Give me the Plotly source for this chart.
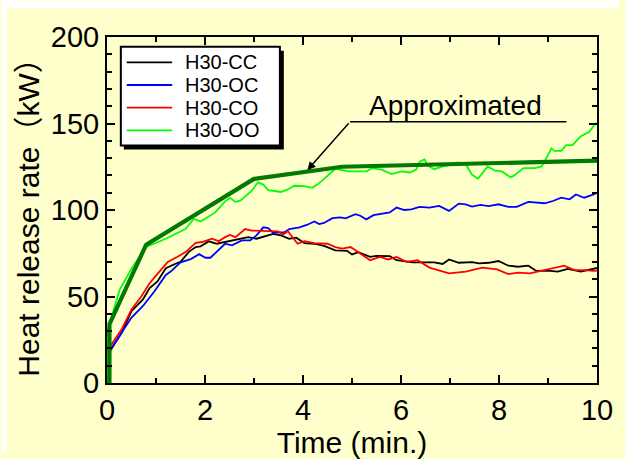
import plotly.graph_objects as go

# Heat release rate measurements, time in minutes, HRR in kW
t_cc = [0, 0.03, 0.3, 0.5, 0.73, 0.87, 1.03, 1.2, 1.41, 1.5, 1.67, 1.81, 1.91, 2.08, 2.24, 2.48,
        2.68, 2.88, 3.05, 3.22, 3.39, 3.55, 3.72, 3.86, 4.03, 4.23, 4.43, 4.66, 4.9, 5.0, 5.13,
        5.37, 5.5, 5.77, 5.91, 6.24, 6.68, 6.85, 6.98, 7.18, 7.45, 7.59, 7.79, 7.99, 8.19, 8.39,
        8.6, 8.76, 9.0, 9.2, 9.4, 9.67, 9.94, 10.0]
hrr_cc = [0, 17, 29, 41.6, 48.2, 54.9, 58.7, 66.3, 69.1, 70, 75.8, 78.6, 79, 81.9, 80.5, 81.9,
          83, 84.3, 83.4, 84.7, 86.2, 85.3, 83.4, 84, 80.9, 80.5, 79.2, 76.7, 76.4, 74.3, 75.6,
          72.9, 73.5, 73.3, 71, 69.7, 69.7, 68.8, 71.4, 69.5, 69.9, 69.1, 69.5, 70.5, 67.8, 67.2,
          67.8, 64.8, 65, 64.4, 65.9, 64.4, 66.3, 66.5]

t_oc = [0, 0.03, 0.26, 0.5, 0.73, 0.97, 1.2, 1.3, 1.5, 1.71, 1.88, 2.01, 2.11, 2.31, 2.41, 2.55,
        2.75, 2.92, 3.05, 3.19, 3.29, 3.39, 3.62, 3.72, 3.93, 4.09, 4.23, 4.33, 4.43, 4.6, 4.76,
        4.87, 5.07, 5.17, 5.29, 5.44, 5.77, 5.91, 6.07, 6.21, 6.38, 6.58, 6.78, 6.98, 7.18, 7.32,
        7.45, 7.62, 7.79, 7.99, 8.19, 8.36, 8.6, 8.93, 9.1, 9.27, 9.44, 9.57, 9.74, 9.97]
hrr_oc = [0, 17.8, 27.4, 37.8, 44.4, 53, 62.5, 64.4, 69.7, 71.6, 74.5, 72.4, 72.4, 77.7, 80.5, 79.6,
          82.4, 82.4, 85.3, 90, 89.5, 86.8, 87.2, 89, 90, 91.5, 93.4, 91.9, 92.5, 95.3, 95.7,
          95.2, 97.6, 96.7, 94.6, 97, 98.6, 101.4, 100, 100.3, 101.8, 101.4, 102.4, 99.5, 103.7, 103.3,
          102, 103, 102.2, 103.3, 101.8, 101.8, 104.7, 103.9, 105.2, 107.1, 106.2, 109, 107.1, 109.4]

t_co = [0, 0.03, 0.3, 0.5, 0.7, 0.87, 1.07, 1.24, 1.44, 1.61, 1.81, 1.94, 2.14, 2.28, 2.41, 2.51,
        2.62, 2.82, 2.95, 3.29, 3.49, 3.59, 3.69, 3.89, 4.03, 4.23, 4.5, 4.66, 4.8, 4.97, 5.17,
        5.37, 5.57, 5.74, 5.91, 6.11, 6.34, 6.58, 6.98, 7.32, 7.66, 7.96, 8.19, 8.39, 8.63, 8.87,
        9.13, 9.33, 9.54, 9.74, 9.94, 10.0]
hrr_co = [0, 19.8, 31, 42.5, 50, 57.7, 64.4, 70, 73, 75.8, 81, 81.5, 83.4, 82, 84.3, 85.6,
          84.3, 89, 88.1, 87.7, 87.7, 85.8, 87.7, 80.5, 82, 80.9, 80.5, 78.6, 77.7, 78.6, 74.8,
          71, 72.9, 71.4, 72.9, 70, 71, 66.7, 63.4, 64.4, 66.7, 65.7, 62.9, 63.8, 63.4, 64.8,
          66.3, 67.8, 65.3, 65.3, 64.8, 65]

t_oo = [0, 0.02, 0.26, 0.5, 0.8, 1.2, 1.6, 1.77, 1.91, 2.21, 2.41, 2.51, 2.62, 2.72, 2.95, 3.08,
        3.19, 3.29, 3.55, 3.69, 3.82, 4.02, 4.19, 4.29, 4.43, 4.66, 4.93, 5.3, 5.4, 5.6, 5.81,
        6.01, 6.18, 6.31, 6.38, 6.48, 6.55, 6.68, 6.85, 7.02, 7.15, 7.32, 7.45, 7.57, 7.77, 7.92,
        8.06, 8.23, 8.29, 8.5, 8.73, 8.87, 8.93, 9.07, 9.13, 9.27, 9.37, 9.5, 9.67, 9.84, 9.98]
hrr_oo = [0, 31, 54, 66, 78.6, 83.4, 89, 94.8, 93.4, 98.6, 105, 107, 104.7, 105.4, 111, 116,
          114.7, 111.5, 110.4, 111.9, 114, 113.8, 112.8, 114.7, 118, 123.8, 122.3, 122.3, 124.2, 123.3, 120.8,
          122.3, 121.7, 123.3, 128, 129.3, 125.7, 123.6, 125.2, 126.1, 127.5, 126.5, 120.4, 118, 125.2, 122.7,
          122.3, 119, 119.6, 124.2, 124.2, 125.2, 128, 135.6, 134.2, 134.2, 137.5, 137.5, 142.6, 145, 150.4]

# Piecewise-linear approximation of the H30-OO curve
t_approx = [0.05, 0.05, 0.8, 3.0, 4.8, 10.0]
hrr_approx = [0, 34, 80, 118, 125, 128.5]

series_names = ["H30-CC", "H30-OC", "H30-CO", "H30-OO"]
series_colors = ["#000000", "#0000FF", "#FF0000", "#00FF00"]
series_t = [t_cc, t_oc, t_co, t_oo]
series_v = [hrr_cc, hrr_oc, hrr_co, hrr_oo]

x_ticks = [0, 2, 4, 6, 8, 10]
y_ticks = [0, 50, 100, 150, 200]

W, H = 625, 459
ML, MR, MT, MB = 107, 22, 37, 71
PW, PH = W - ML - MR, H - MT - MB
FONT = "Liberation Sans, Arial, Noto Sans CJK JP, sans-serif"
BG = "#FFFFCC"


def fx(px):
    return (px - ML) / PW


def fy(py):
    return (H - MB - py) / PH


fig = go.Figure()
for name, color, tt, vv in zip(series_names, series_colors, series_t, series_v):
    fig.add_trace(go.Scatter(x=tt, y=vv, mode="lines", name=name,
                             line=dict(color=color, width=1.8), showlegend=False))

fig.add_trace(go.Scatter(x=t_approx, y=hrr_approx, mode="lines", name="Approximated",
                         line=dict(color="#007A00", width=4.2), showlegend=False))

shapes = [
    # white border strips around the yellow page
    dict(type="rect", xref="paper", yref="paper", x0=fx(0), x1=fx(W), y0=fy(0), y1=fy(8),
         fillcolor="white", line_width=0, layer="below"),
    dict(type="rect", xref="paper", yref="paper", x0=fx(0), x1=fx(5), y0=fy(0), y1=fy(H),
         fillcolor="white", line_width=0, layer="below"),
    # legend box with drop shadow
    dict(type="rect", xref="paper", yref="paper", x0=fx(124), x1=fx(286), y0=fy(51), y1=fy(151),
         fillcolor="black", line_width=0, layer="above"),
    dict(type="rect", xref="paper", yref="paper", x0=fx(121), x1=fx(282), y0=fy(47), y1=fy(147),
         fillcolor="white", line=dict(color="black", width=2), layer="above"),
    # callout leader
    dict(type="line", xref="x", yref="y", x0=4.96, x1=9.375, y0=151, y1=151,
         line=dict(color="black", width=1.5), layer="above"),
]

annotations = []
for i, (name, color) in enumerate(zip(series_names, series_colors)):
    row_y = 62.7 + 23 * i
    shapes.append(dict(type="line", xref="paper", yref="paper", x0=fx(127), x1=fx(173),
                       y0=fy(row_y), y1=fy(row_y), line=dict(color=color, width=1.8), layer="above"))
    annotations.append(dict(xref="paper", yref="paper", x=fx(185), y=fy(row_y), text=name,
                            showarrow=False, xanchor="left", yanchor="middle",
                            borderpad=0,
                            font=dict(family=FONT, size=20, color="black")))

annotations.append(dict(x=4.09, y=123, ax=4.96, ay=151, axref="x", ayref="y", xref="x", yref="y",
                        text="", showarrow=True, arrowhead=2, arrowsize=1.1, arrowwidth=1.5,
                        arrowcolor="black"))
annotations.append(dict(x=7.12, y=160.5, xref="x", yref="y", text="Approximated", showarrow=False,
                        xanchor="center", yanchor="middle",
                        font=dict(family=FONT, size=28, color="black")))

axis_common = dict(showgrid=False, zeroline=False, showline=True, linecolor="black", linewidth=2,
                   mirror="allticks", ticks="inside", ticklen=8, tickwidth=1.5, tickcolor="black",
                   tickfont=dict(family=FONT, size=29, color="black"))

fig.update_layout(
    width=W, height=H,
    margin=dict(l=ML, r=MR, t=MT, b=MB, pad=0),
    paper_bgcolor=BG, plot_bgcolor=BG,
    font=dict(family=FONT, color="black"),
    xaxis=dict(range=[0, 10], tickvals=x_ticks,
               minor=dict(dtick=1, ticks="inside", ticklen=5, tickwidth=1.5, tickcolor="black"),
               title=dict(text="Time (min.)", font=dict(family=FONT, size=30), standoff=0),
               **axis_common),
    yaxis=dict(range=[0, 200], tickvals=y_ticks,
               minor=dict(dtick=10, ticks="inside", ticklen=5, tickwidth=1.5, tickcolor="black"),
               title=dict(text="Heat release rate（kW）", font=dict(family=FONT, size=30), standoff=2),
               **axis_common),
    shapes=shapes,
    annotations=annotations,
)

fig.write_html("out.html")
